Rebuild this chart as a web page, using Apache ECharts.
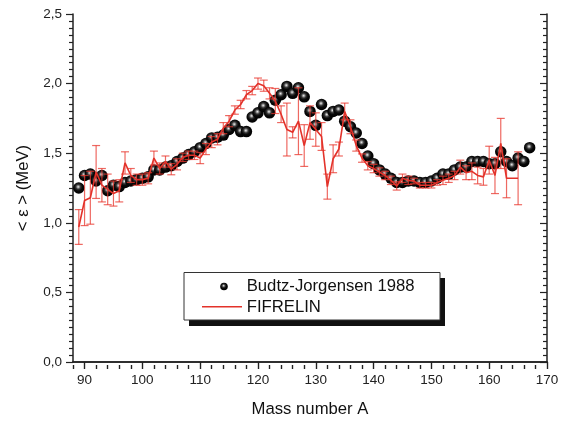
<!DOCTYPE html>
<html><head><meta charset="utf-8">
<script src="https://cdn.jsdelivr.net/npm/echarts@6/dist/echarts.min.js"></script>
<style>html,body{margin:0;padding:0;background:#fff}#c{width:567px;height:423px}</style>
</head><body><div id="c"></div>
<script>
// ---- data ----
const xTickLabels = [90, 100, 110, 120, 130, 140, 150, 160, 170];
const seriesNames = ['Budtz-Jorgensen 1988', 'FIFRELIN'];
const bjMass = [89,90,91,92,93,94,95,96,97,98,99,100,101,102,103,104,105,106,107,108,109,110,111,112,113,114,115,116,117,118,119,120,121,122,123,124,125,126,127,128,129,130,131,132,133,134,135,136,137,138,139,140,141,142,143,144,145,146,147,148,149,150,151,152,153,154,155,156,157,158,159,160,161,162,163,164,165,166,167];
const bjEnergy = [1.25,1.34,1.35,1.30,1.34,1.23,1.27,1.26,1.29,1.30,1.31,1.32,1.33,1.38,1.38,1.40,1.41,1.44,1.465,1.49,1.51,1.54,1.57,1.61,1.615,1.63,1.67,1.70,1.655,1.655,1.76,1.79,1.835,1.79,1.88,1.92,1.98,1.93,1.97,1.905,1.80,1.70,1.85,1.77,1.80,1.81,1.73,1.69,1.645,1.57,1.48,1.425,1.38,1.35,1.32,1.29,1.29,1.30,1.30,1.29,1.29,1.30,1.32,1.35,1.35,1.38,1.40,1.40,1.44,1.44,1.44,1.425,1.425,1.51,1.44,1.41,1.465,1.44,1.54];
const fifMass = [89,90,91,92,93,94,95,96,97,98,99,100,101,102,103,104,105,106,107,108,109,110,111,112,113,114,115,116,117,118,119,120,121,122,123,124,125,126,127,128,129,130,131,132,133,134,135,136,137,138,139,140,141,142,143,144,145,146,147,148,149,150,151,152,153,154,155,156,157,158,159,160,161,162,163,165];
const fifEnergy = [0.97,1.16,1.18,1.365,1.27,1.24,1.21,1.23,1.43,1.34,1.31,1.31,1.32,1.465,1.39,1.44,1.385,1.42,1.47,1.485,1.485,1.465,1.53,1.58,1.60,1.68,1.73,1.81,1.85,1.92,1.95,2.00,1.985,1.93,1.875,1.78,1.67,1.65,1.73,1.555,1.72,1.67,1.62,1.26,1.46,1.53,1.80,1.69,1.555,1.465,1.41,1.39,1.365,1.34,1.305,1.265,1.32,1.305,1.30,1.27,1.27,1.27,1.29,1.305,1.32,1.34,1.40,1.36,1.37,1.34,1.33,1.45,1.34,1.57,1.32,1.32];
const fifError = [0.125,0.18,0.19,0.19,0.12,0.11,0.09,0.08,0.08,0.05,0.04,0.04,0.04,0.05,0.04,0.04,0.04,0.04,0.03,0.03,0.03,0.04,0.04,0.04,0.04,0.04,0.04,0.03,0.03,0.03,0.03,0.04,0.04,0.04,0.09,0.06,0.19,0.04,0.24,0.15,0.12,0.12,0.10,0.09,0.10,0.05,0.06,0.05,0.04,0.03,0.03,0.03,0.03,0.03,0.03,0.03,0.03,0.03,0.02,0.02,0.02,0.02,0.02,0.03,0.03,0.03,0.05,0.05,0.06,0.06,0.06,0.10,0.13,0.18,0.14,0.19];

// ---- build ----
const xMinorValues = [];
for (let v = 88; v <= 170; v += 2) { if (v % 10 !== 0) xMinorValues.push(v); }
const bjData = bjMass.map((m, i) => [m, bjEnergy[i]]);
const fifData = fifMass.map((m, i) => [m, fifEnergy[i]]);
const errData = fifMass.map((m, i) => [m, fifEnergy[i] - fifError[i], fifEnergy[i] + fifError[i]]);

const FONT = 'Liberation Sans, Arial, sans-serif';
const AX = '#222';
const RED = '#e3322a';
const G = { left: 73, top: 14, width: 474, height: 351 };

function sphere() {
  return {
    type: 'radial', x: 0.45, y: 0.4, r: 0.6,
    colorStops: [
      { offset: 0, color: '#f0f0f0' },
      { offset: 0.13, color: '#a8a8a8' },
      { offset: 0.35, color: '#333' },
      { offset: 0.6, color: '#080808' },
      { offset: 1, color: '#000' }
    ]
  };
}

const chart = echarts.init(document.getElementById('c'), null, { renderer: 'canvas' });
chart.setOption({
  animation: false,
  backgroundColor: '#fff',
  grid: [Object.assign({}, G), Object.assign({}, G)],
  xAxis: [
    { gridIndex: 0, type: 'value', min: 88, max: 170, position: 'bottom',
      axisLine: { lineStyle: { color: AX, width: 1.5 } },
      axisTick: { length: 7, customValues: xTickLabels, lineStyle: { color: AX, width: 1.2 } },
      axisLabel: { customValues: xTickLabels, fontSize: 13.5, color: '#222', fontFamily: FONT, margin: 11 },
      splitLine: { show: false },
      name: 'Mass number A', nameLocation: 'middle', nameGap: 39,
      nameTextStyle: { fontSize: 16.7, color: '#111', fontFamily: FONT } },
    { gridIndex: 0, type: 'value', min: 88, max: 170, position: 'top',
      axisLine: { lineStyle: { color: AX, width: 1.5 } },
      axisTick: { inside: true, length: 7, customValues: xTickLabels, lineStyle: { color: AX, width: 1.2 } },
      axisLabel: { show: false }, splitLine: { show: false } },
    { gridIndex: 1, type: 'value', min: 88, max: 170, position: 'bottom',
      axisLine: { show: false },
      axisTick: { length: 4, customValues: xMinorValues, lineStyle: { color: AX, width: 1.2 } },
      axisLabel: { show: false }, splitLine: { show: false } },
    { gridIndex: 1, type: 'value', min: 88, max: 170, position: 'top',
      axisLine: { show: false },
      axisTick: { inside: true, length: 4, customValues: xMinorValues, lineStyle: { color: AX, width: 1.2 } },
      axisLabel: { show: false }, splitLine: { show: false } }
  ],
  yAxis: [
    { gridIndex: 0, type: 'value', min: 0, max: 2.5, interval: 0.5, position: 'left',
      axisLine: { show: true, lineStyle: { color: AX, width: 1.5 } },
      axisTick: { show: true, length: 7, lineStyle: { color: AX, width: 1.2 } },
      minorTick: { show: true, splitNumber: 10, length: 4, lineStyle: { color: AX, width: 1.2 } },
      axisLabel: { fontSize: 13.5, color: '#222', fontFamily: FONT, margin: 11,
        formatter: v => v.toFixed(1).replace('.', ',') },
      splitLine: { show: false }, minorSplitLine: { show: false },
      name: '< \u03b5 > (MeV)', nameLocation: 'middle', nameGap: 38,
      nameTextStyle: { fontSize: 16.7, color: '#111', fontFamily: FONT } },
    { gridIndex: 0, type: 'value', min: 0, max: 2.5, interval: 0.5, position: 'right',
      axisLine: { show: true, lineStyle: { color: AX, width: 1.5 } },
      axisTick: { show: true, inside: true, length: 7, lineStyle: { color: AX, width: 1.2 } },
      minorTick: { show: true, splitNumber: 10, length: 4, lineStyle: { color: AX, width: 1.2 } },
      axisLabel: { show: false }, splitLine: { show: false } },
    { gridIndex: 1, type: 'value', min: 0, max: 2.5, show: false },
    { gridIndex: 1, type: 'value', min: 0, max: 2.5, show: false, position: 'right' }
  ],
  graphic: [
    { type: 'rect', left: 189, top: 278, z: 100, shape: { width: 256, height: 48 }, style: { fill: '#111' } },
    { type: 'rect', left: 183.5, top: 272, z: 101, shape: { width: 256, height: 47.5 },
      style: { fill: '#fff', stroke: '#333', lineWidth: 1 } },
    { type: 'circle', z: 102, shape: { cx: 224, cy: 286.5, r: 3.8 }, style: { fill: sphere() } },
    { type: 'line', z: 102, shape: { x1: 202, y1: 306.7, x2: 242, y2: 306.7 }, style: { stroke: RED, lineWidth: 1.6 } },
    { type: 'text', z: 102, x: 246.7, y: 286.5, style: { text: seriesNames[0], fontSize: 16.7, fontFamily: FONT, fill: '#111', verticalAlign: 'middle' } },
    { type: 'text', z: 102, x: 246.7, y: 307.3, style: { text: seriesNames[1], fontSize: 16.7, fontFamily: FONT, fill: '#111', verticalAlign: 'middle' } }
  ],
  series: [
    { name: seriesNames[0], type: 'scatter', xAxisIndex: 0, yAxisIndex: 0,
      data: bjData, symbol: 'circle', symbolSize: 11.5,
      itemStyle: { color: sphere(), opacity: 1 }, z: 2 },
    { type: 'custom', xAxisIndex: 0, yAxisIndex: 0, data: errData, z: 3,
      renderItem: function (params, api) {
        const x = api.value(0);
        const lo = api.coord([x, api.value(1)]);
        const hi = api.coord([x, api.value(2)]);
        const c = 4;
        const st = { stroke: 'rgba(232,55,45,0.75)', lineWidth: 1.2 };
        return { type: 'group', children: [
          { type: 'line', shape: { x1: lo[0], y1: lo[1], x2: hi[0], y2: hi[1] }, style: st },
          { type: 'line', shape: { x1: lo[0] - c, y1: lo[1], x2: lo[0] + c, y2: lo[1] }, style: st },
          { type: 'line', shape: { x1: hi[0] - c, y1: hi[1], x2: hi[0] + c, y2: hi[1] }, style: st }
        ]};
      } },
    { name: seriesNames[1], type: 'line', xAxisIndex: 0, yAxisIndex: 0, data: fifData,
      symbol: 'none', z: 4,
      lineStyle: { color: RED, width: 1.6 }, itemStyle: { color: RED } }
  ]
});
</script>
</body></html>
